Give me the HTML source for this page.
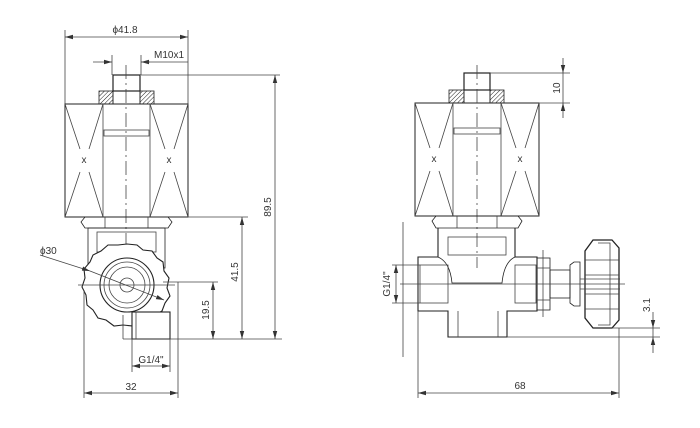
<!DOCTYPE html>
<html><head><style>html,body{margin:0;padding:0;background:#fff}svg{display:block}text{font-family:"Liberation Sans",sans-serif;font-size:10px;fill:#333}</style></head><body>
<svg width="700" height="428" viewBox="0 0 700 428" xmlns="http://www.w3.org/2000/svg">
<defs>
<pattern id="h" width="3" height="3" patternUnits="userSpaceOnUse" patternTransform="rotate(45)"><line x1="0" y1="0" x2="0" y2="3" stroke="#222" stroke-width="1"/></pattern>
<marker id="a" markerWidth="8" markerHeight="6" refX="8" refY="3" orient="auto-start-reverse" markerUnits="userSpaceOnUse"><path d="M0,0.8 L8,3 L0,5.2z" fill="#333"/></marker>
</defs>
<g fill="none" stroke="#444" stroke-width="0.8">
<!-- LEFT VIEW -->
<line x1="65" y1="30" x2="65" y2="104"/><line x1="188" y1="30" x2="188" y2="104"/>
<line x1="65" y1="37" x2="188" y2="37" marker-start="url(#a)" marker-end="url(#a)"/>
<line x1="112" y1="55" x2="112" y2="75"/><line x1="141" y1="55" x2="141" y2="75"/>
<line x1="93" y1="62" x2="112" y2="62" marker-end="url(#a)"/><line x1="150" y1="62" x2="141" y2="62" marker-end="url(#a)"/><line x1="141" y1="62" x2="188" y2="62"/>
<rect x="113" y="75" width="27" height="16" stroke="#222" stroke-width="1.2"/>
<rect x="99" y="91" width="14" height="13" fill="url(#h)" stroke="#222"/><rect x="140" y="91" width="14" height="13" fill="url(#h)" stroke="#222"/>
<rect x="113" y="91" width="27" height="13" stroke="#222"/>
<rect x="65" y="104" width="123" height="113" stroke="#222" stroke-width="1"/>
<line x1="103" y1="104" x2="103" y2="217"/><line x1="150" y1="104" x2="150" y2="217"/>
<rect x="104" y="130" width="45" height="6"/>
<path d="M65,104 L80,149 M89,172 L103,217 M103,104 L89,149 M80,172 L65,217"/>
<path d="M150,104 L165,149 M174,172 L188,217 M188,104 L174,149 M165,172 L150,217"/>
<line x1="126" y1="65" x2="126" y2="300" stroke-dasharray="14,4,2,4"/>
<line x1="141" y1="75" x2="280" y2="75"/>
<line x1="275" y1="75" x2="275" y2="339" marker-start="url(#a)" marker-end="url(#a)"/>
<path d="M85,217 H168 L172,222 L168,228 H85 L81,222 Z" stroke="#222"/>
<line x1="105" y1="217" x2="105" y2="228"/><line x1="148" y1="217" x2="148" y2="228"/>
<line x1="188" y1="217" x2="248" y2="217"/>
<rect x="88" y="228" width="77" height="40" stroke="#222"/>
<rect x="97" y="232" width="59" height="20"/>
<path d="M127,244 L137,245 L143,250 L152,251 L157,258 L163,262 L164,271 L169,278 L167,288 L170,296 L165,303 L162,311 L155,315 L150,321 L140,322 L133,326 L123,325 L114,326 L106,320 L98,318 L93,310 L87,305 L86,295 L82,287 L85,278 L84,269 L90,262 L93,255 L101,251 L108,245 L118,245 Z" fill="#fff" stroke="#222" stroke-width="1.1"/>
<circle cx="127" cy="285" r="27" stroke="#222" stroke-width="1.1"/>
<circle cx="127" cy="285" r="23"/>
<circle cx="127" cy="285" r="18"/>
<circle cx="127" cy="285" r="7"/>
<line x1="78" y1="285" x2="175" y2="285"/>
<line x1="163" y1="282" x2="218" y2="282"/>
<rect x="132" y="312" width="38" height="27" fill="#fff" stroke="#222" stroke-width="1.1"/>
<line x1="136" y1="312" x2="136" y2="339"/>
<line x1="123" y1="339" x2="282" y2="339"/>
<line x1="123" y1="315" x2="123" y2="339"/>
<line x1="242" y1="217" x2="242" y2="339" marker-start="url(#a)" marker-end="url(#a)"/>
<line x1="213" y1="282" x2="213" y2="339" marker-start="url(#a)" marker-end="url(#a)"/>
<line x1="132" y1="339" x2="132" y2="372"/><line x1="170" y1="339" x2="170" y2="372"/>
<line x1="132" y1="366" x2="170" y2="366" marker-start="url(#a)" marker-end="url(#a)"/>
<line x1="84" y1="290" x2="84" y2="398"/><line x1="178" y1="282" x2="178" y2="398"/>
<line x1="84" y1="393" x2="178" y2="393" marker-start="url(#a)" marker-end="url(#a)"/>
<line x1="40" y1="255" x2="90" y2="271" marker-end="url(#a)"/><line x1="90" y1="271" x2="164" y2="300" marker-end="url(#a)"/>
<!-- RIGHT VIEW -->
<rect x="464" y="73" width="26" height="17" stroke="#222" stroke-width="1.2"/>
<rect x="449" y="90" width="15" height="13" fill="url(#h)" stroke="#222"/><rect x="490" y="90" width="14" height="13" fill="url(#h)" stroke="#222"/>
<rect x="464" y="90" width="26" height="13" stroke="#222"/>
<rect x="415" y="103" width="124" height="113" stroke="#222" stroke-width="1"/>
<line x1="453" y1="103" x2="453" y2="216"/><line x1="501" y1="103" x2="501" y2="216"/>
<rect x="454" y="128" width="46" height="6"/>
<path d="M415,103 L430,148 M439,171 L453,216 M453,103 L439,148 M430,171 L415,216"/>
<path d="M501,103 L516,148 M525,171 L539,216 M539,103 L525,148 M516,171 L501,216"/>
<line x1="477" y1="65" x2="477" y2="268" stroke-dasharray="14,4,2,4"/>
<line x1="490" y1="73" x2="570" y2="73"/><line x1="539" y1="103" x2="570" y2="103"/>
<line x1="563" y1="58" x2="563" y2="73" marker-end="url(#a)"/><line x1="563" y1="73" x2="563" y2="103"/><line x1="563" y1="118" x2="563" y2="103" marker-end="url(#a)"/>
<path d="M436,216 H518 L522,221 L518,228 H436 L432,221 Z" stroke="#222"/>
<line x1="457" y1="216" x2="457" y2="228"/><line x1="497" y1="216" x2="497" y2="228"/>
<path d="M438,228 V257 H418 V311 H448 V337 H507 V311 H537 V257 H515 V228" stroke="#222" stroke-width="1.1"/>
<path d="M438,257 Q450,262 452,283 H502 Q504,262 515,257" stroke="#222"/>
<rect x="448" y="237" width="58" height="18"/>
<rect x="420" y="265" width="28" height="38"/><rect x="515" y="265" width="21" height="38"/>
<line x1="458" y1="311" x2="458" y2="337"/><line x1="498" y1="311" x2="498" y2="337"/>
<rect x="537" y="258" width="13" height="52" stroke="#222"/>
<line x1="537" y1="268" x2="550" y2="268"/><line x1="537" y1="300" x2="550" y2="300"/>
<rect x="550" y="270" width="20" height="28" stroke="#222"/>
<path d="M570,265 L574,262 H580 V306 H574 L570,303 Z" stroke="#222"/>
<path d="M593,240 H612 L619,248 V320 L612,328 H593 L585,318 V251 Z" stroke="#222" stroke-width="1.3"/>
<path d="M598,243 H610 V325 H598 M585,260 H619 M585,275 H619 M585,294 H619 M585,309 H619" />
<line x1="580" y1="279" x2="620" y2="279"/><line x1="580" y1="289" x2="620" y2="289"/>
<line x1="543" y1="250" x2="543" y2="317"/>
<line x1="400" y1="284" x2="625" y2="284"/>
<line x1="403" y1="222" x2="403" y2="357"/>
<line x1="392" y1="265" x2="420" y2="265"/><line x1="392" y1="303" x2="420" y2="303"/>
<line x1="396" y1="265" x2="396" y2="303" marker-start="url(#a)" marker-end="url(#a)"/>
<line x1="418" y1="311" x2="418" y2="398"/><line x1="619" y1="328" x2="619" y2="398"/>
<line x1="418" y1="393" x2="619" y2="393" marker-start="url(#a)" marker-end="url(#a)"/>
<line x1="612" y1="328" x2="660" y2="328"/><line x1="507" y1="337" x2="660" y2="337"/>
<line x1="653" y1="312" x2="653" y2="328" marker-end="url(#a)"/><line x1="653" y1="328" x2="653" y2="337"/><line x1="653" y1="353" x2="653" y2="337" marker-end="url(#a)"/>
</g>
<text x="125" y="33" text-anchor="middle">ϕ41.8</text>
<text x="154" y="58">M10x1</text>
<text x="84" y="163" text-anchor="middle" font-size="9">x</text>
<text x="169" y="163" text-anchor="middle" font-size="9">x</text>
<text x="434" y="162" text-anchor="middle" font-size="9">x</text>
<text x="520" y="162" text-anchor="middle" font-size="9">x</text>
<text transform="translate(271,207) rotate(-90)" text-anchor="middle">89.5</text>
<text transform="translate(238,272) rotate(-90)" text-anchor="middle">41.5</text>
<text transform="translate(209,310) rotate(-90)" text-anchor="middle">19.5</text>
<text x="40" y="254">ϕ30</text>
<text x="151" y="363" text-anchor="middle">G1/4"</text>
<text x="131" y="390" text-anchor="middle">32</text>
<text transform="translate(560,88) rotate(-90)" text-anchor="middle">10</text>
<text transform="translate(390,284) rotate(-90)" text-anchor="middle">G1/4"</text>
<text x="520" y="389" text-anchor="middle">68</text>
<text transform="translate(650,305) rotate(-90)" text-anchor="middle">3.1</text>
</svg>
</body></html>
